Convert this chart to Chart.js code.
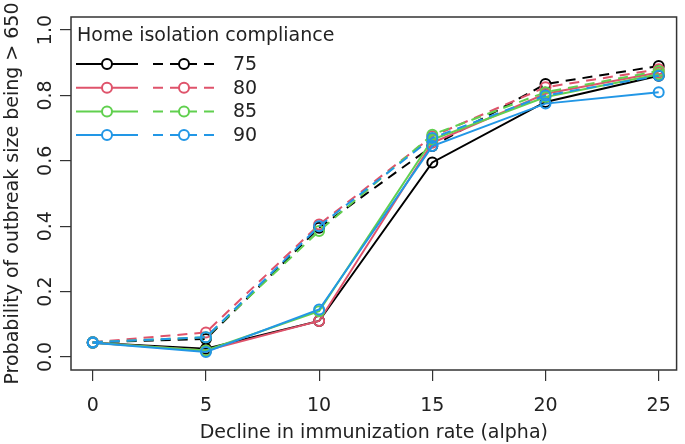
<!DOCTYPE html>
<html>
<head>
<meta charset="utf-8">
<script src="https://cdn.jsdelivr.net/npm/chart.js@4/dist/chart.umd.min.js"></script>
<style>
  html, body { margin: 0; padding: 0; background: #fff; }
  #wrap { width: 685px; height: 444px; }
</style>
</head>
<body>
<div id="wrap"><canvas id="grafico" width="685" height="444"></canvas></div>
<script>
// datos
var alpha = [0, 5, 10, 15, 20, 25];
var compliance = ['75', '80', '85', '90'];
var colores = ['#000000', '#DF536B', '#61D04F', '#2297E6'];

// lineas continuas
var solid75 = [0.043, 0.025, 0.11, 0.595, 0.78, 0.86];
var solid80 = [0.043, 0.02, 0.11, 0.655, 0.805, 0.87];
var solid85 = [0.043, 0.02, 0.14, 0.665, 0.795, 0.865];
var solid90 = [0.043, 0.015, 0.145, 0.645, 0.775, 0.81];

// lineas discontinuas
var dashed75 = [0.045, 0.055, 0.395, 0.645, 0.835, 0.89];
var dashed80 = [0.045, 0.075, 0.405, 0.675, 0.825, 0.88];
var dashed85 = [0.045, 0.06, 0.385, 0.68, 0.81, 0.875];
var dashed90 = [0.045, 0.06, 0.40, 0.67, 0.80, 0.86];

var yTicks = [0, 0.2, 0.4, 0.6, 0.8, 1.0];
var xTicks = [0, 5, 10, 15, 20, 25];

var solidas = [solid75, solid80, solid85, solid90];
var discontinuas = [dashed75, dashed80, dashed85, dashed90];
var fuente = 'DejaVu Sans';
var gris = '#333333';
var patron = [10, 7];

function serie(valores, color, dash, orden) {
    return {
        data: valores.map(function (v, i) { return { x: alpha[i], y: v }; }),
        borderColor: color,
        pointBorderColor: color,
        pointBackgroundColor: 'rgba(0,0,0,0)',
        borderWidth: 2,
        pointRadius: 5,
        pointBorderWidth: 2,
        borderDash: dash,
        tension: 0,
        fill: false,
        order: orden
    };
}

var datasets = [];
for (var i = 0; i < compliance.length; i++) {
    datasets.push(serie(solidas[i], colores[i], [], 10 - 2 * i));
    datasets.push(serie(discontinuas[i], colores[i], patron, 9 - 2 * i));
}

// caja del grafico + leyenda tipo R
var cajaYLeyenda = {
    id: 'cajaYLeyenda',
    afterDraw: function (chart) {
        var ctx = chart.ctx;
        var a = chart.chartArea;
        ctx.save();
        ctx.strokeStyle = gris;
        ctx.lineWidth = 1.5;
        ctx.strokeRect(a.left, a.top, a.right - a.left, a.bottom - a.top);

        ctx.font = '19px "' + fuente + '"';
        ctx.fillStyle = '#222';
        ctx.textBaseline = 'middle';
        ctx.textAlign = 'left';
        ctx.fillText('Home isolation compliance', a.left + 6, a.top + 19);
        for (var k = 0; k < compliance.length; k++) {
            var yy = a.top + 47 + k * 23.7;
            ctx.strokeStyle = colores[k];
            ctx.lineWidth = 2;
            ctx.setLineDash([]);
            ctx.beginPath();
            ctx.moveTo(a.left + 5, yy);
            ctx.lineTo(a.left + 67, yy);
            ctx.stroke();
            ctx.setLineDash(patron);
            ctx.beginPath();
            ctx.moveTo(a.left + 82, yy);
            ctx.lineTo(a.left + 145, yy);
            ctx.stroke();
            ctx.setLineDash([]);
            ctx.fillStyle = '#fff';
            ctx.beginPath();
            ctx.arc(a.left + 36, yy, 5, 0, Math.PI * 2);
            ctx.fill();
            ctx.stroke();
            ctx.beginPath();
            ctx.arc(a.left + 113, yy, 5, 0, Math.PI * 2);
            ctx.fill();
            ctx.stroke();
            ctx.fillStyle = '#222';
            ctx.fillText(compliance[k], a.left + 162, yy + 1);
        }
        ctx.restore();
    }
};

var chart = new Chart(document.getElementById('grafico').getContext('2d'), {
    type: 'line',
    data: { datasets: datasets },
    plugins: [cajaYLeyenda],
    options: {
        responsive: false,
        animation: false,
        layout: { padding: { top: 17, right: 3, left: 2, bottom: 0 } },
        plugins: { legend: { display: false }, tooltip: { enabled: false } },
        scales: {
            x: {
                type: 'linear',
                min: -0.96,
                max: 25.79,
                afterBuildTicks: function (s) { s.ticks = xTicks.map(function (v) { return { value: v }; }); },
                afterFit: function (s) { s.height = 74; },
                grid: { drawOnChartArea: false, tickLength: 11, color: gris, lineWidth: 1.2 },
                border: { display: false },
                ticks: { color: '#222', font: { family: fuente, size: 19 }, padding: 14 },
                title: { display: true, text: 'Decline in immunization rate (alpha)', color: '#222', font: { family: fuente, size: 19 }, padding: { top: 0, bottom: 0 } }
            },
            y: {
                type: 'linear',
                min: -0.04,
                max: 1.04,
                afterBuildTicks: function (s) { s.ticks = yTicks.map(function (v) { return { value: v }; }); },
                afterFit: function (s) { s.width = 69; },
                grid: { drawOnChartArea: false, tickLength: 11, color: gris, lineWidth: 1.2 },
                border: { display: false },
                ticks: {
                    color: '#222',
                    font: { family: fuente, size: 19 },
                    minRotation: 90,
                    maxRotation: 90,
                    crossAlign: 'center',
                    padding: -1,
                    callback: function (v) { return v.toFixed(1); }
                },
                title: { display: true, text: 'Probability of outbreak size being > 650', color: '#222', font: { family: fuente, size: 19 }, padding: { top: 0, bottom: 0 } }
            }
        }
    }
});
</script>
</body>
</html>
